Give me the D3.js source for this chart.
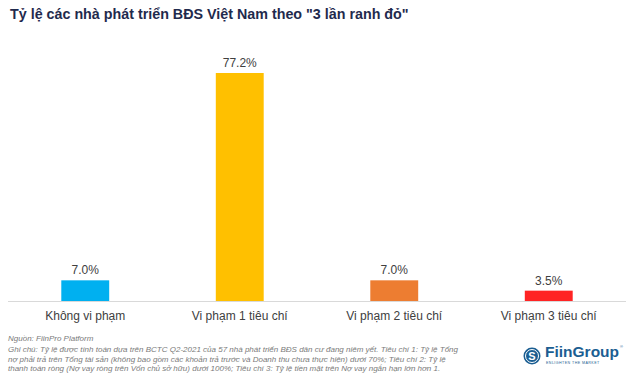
<!DOCTYPE html>
<html lang="vi">
<head>
<meta charset="UTF-8">
<title>Ranh do</title>
<script src="https://cdn.jsdelivr.net/npm/d3@7"></script>
<style>
  body { margin: 0; background: #fff; }
  text { font-family: "Liberation Sans", Arial, sans-serif; }
</style>
</head>
<body>
<svg id="chart" width="637" height="384"></svg>
<script>
// data
var categories = ["Không vi phạm", "Vi phạm 1 tiêu chí", "Vi phạm 2 tiêu chí", "Vi phạm 3 tiêu chí"];
var values = [7.0, 77.2, 7.0, 3.5];
var colors = ["#00B0F0", "#FFC000", "#ED7D31", "#FF2424"];
var title = 'Tỷ lệ các nhà phát triển BĐS Việt Nam theo "3 lần ranh đỏ"';
var source = "Nguồn: FiinPro Platform";
var notes = [
  "Ghi chú: Tỷ lệ được tính toán dựa trên BCTC Q2-2021 của 57 nhà phát triển BĐS dân cư đang niêm yết. Tiêu chí 1: Tỷ lệ Tổng",
  "nợ phải trả trên Tổng tài sản (không bao gồm các khoản trả trước và Doanh thu chưa thực hiện) dưới 70%; Tiêu chí 2: Tỷ lệ",
  "thanh toán ròng (Nợ vay ròng trên Vốn chủ sở hữu) dưới 100%; Tiêu chí 3: Tỷ lệ tiền mặt trên Nợ vay ngắn hạn lớn hơn 1."
];

var svg = d3.select("#chart");

svg.append("text")
  .attr("x", 10).attr("y", 19)
  .attr("fill", "#1F2A4D")
  .style("font-size", "14.3px").style("font-weight", "bold")
  .text(title);

var x = d3.scaleBand()
  .domain(categories)
  .range([8, 626])
  .paddingInner(0.69).paddingOuter(0.345);

var y = d3.scaleLinear()
  .domain([0, 77.2])
  .range([301, 73]);

// baseline
svg.append("line")
  .attr("x1", 8).attr("x2", 626)
  .attr("y1", y(0) + 0.5).attr("y2", y(0) + 0.5)
  .attr("stroke", "#D9D9D9");

svg.selectAll(".bar")
  .data(values)
  .enter().append("rect")
  .attr("class", "bar")
  .attr("x", function (d, i) { return x(categories[i]); })
  .attr("width", x.bandwidth())
  .attr("y", function (d) { return y(d); })
  .attr("height", function (d) { return y(0) - y(d); })
  .attr("fill", function (d, i) { return colors[i]; });

// value labels
svg.selectAll(".val")
  .data(values)
  .enter().append("text")
  .attr("class", "val")
  .attr("x", function (d, i) { return x(categories[i]) + x.bandwidth() / 2; })
  .attr("y", function (d) { return y(d) - 6; })
  .attr("text-anchor", "middle")
  .attr("fill", "#404040")
  .style("font-size", "12px")
  .text(function (d) { return d.toFixed(1) + "%"; });

// category labels
svg.selectAll(".cat")
  .data(categories)
  .enter().append("text")
  .attr("class", "cat")
  .attr("x", function (d) { return x(d) + x.bandwidth() / 2; })
  .attr("y", 320)
  .attr("text-anchor", "middle")
  .attr("fill", "#404040")
  .style("font-size", "12px")
  .text(function (d) { return d; });

// footer
svg.append("text")
  .attr("x", 8).attr("y", 341)
  .attr("fill", "#7A7A7A")
  .style("font-size", "8px").style("font-style", "italic")
  .text(source);

svg.selectAll(".note")
  .data(notes)
  .enter().append("text")
  .attr("class", "note")
  .attr("x", 8)
  .attr("y", function (d, i) { return 352 + i * 9.7; })
  .attr("fill", "#7A7A7A")
  .style("font-size", "8px").style("font-style", "italic")
  .text(function (d) { return d; });

// logo
var logo = svg.append("g").attr("transform", "translate(532,356)");
logo.append("circle").attr("r", 8.5).attr("fill", "#1B5E92");
logo.append("circle").attr("r", 6.5).attr("fill", "none").attr("stroke", "#fff").attr("stroke-width", 1);
logo.append("text")
  .attr("text-anchor", "middle").attr("y", 4)
  .attr("fill", "#fff")
  .style("font-size", "11px").style("font-weight", "bold")
  .text("S");
logo.append("text")
  .attr("x", 13).attr("y", 1)
  .attr("fill", "#1B5E92")
  .style("font-size", "15.5px").style("font-weight", "bold")
  .text("FiinGroup");
logo.append("text")
  .attr("x", 88).attr("y", -8)
  .attr("fill", "#1B5E92")
  .style("font-size", "4px")
  .text("®");
logo.append("text")
  .attr("x", 14).attr("y", 7.5)
  .attr("fill", "#1B5E92")
  .style("font-size", "3.6px").style("letter-spacing", "0.45px")
  .text("ENLIGHTEN THE MARKET");
</script>
</body>
</html>
